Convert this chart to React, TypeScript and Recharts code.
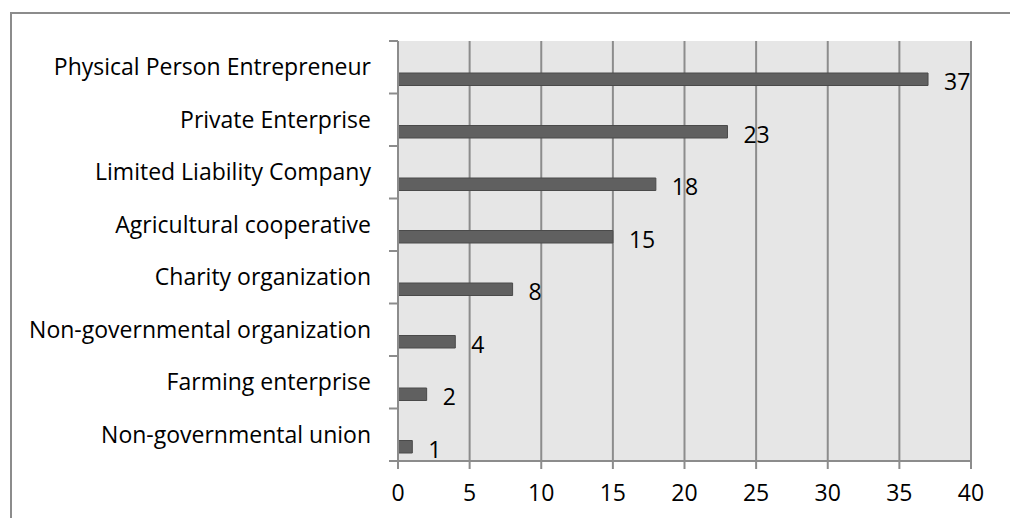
import React from 'react';
import {
  Bar,
  BarChart,
  CartesianGrid,
  LabelList,
  XAxis,
  YAxis,
} from 'recharts';

const categories = [
  'Physical Person Entrepreneur',
  'Private Enterprise',
  'Limited Liability Company',
  'Agricultural cooperative',
  'Charity organization',
  'Non-governmental organization',
  'Farming enterprise',
  'Non-governmental union',
];

const counts = [37, 23, 18, 15, 8, 4, 2, 1];

// Excel left an empty series in front of the real one, pushing bars down
const emptySeries = [null, null, null, null, null, null, null, null];

const xTicks = [0, 5, 10, 15, 20, 25, 30, 35, 40];

const data = categories.map((name, i) => ({
  name,
  blank: emptySeries[i],
  count: counts[i],
}));

const FONT = '"Open Sans", Lato, sans-serif';
const FONT_SIZE = 23;
const GRID = '#8c8c8c';

const CategoryTick = (props: any) => {
  const { x, y, payload, index, visibleTicksCount } = props;
  const half = payload && payload.offset ? payload.offset : 26.25;
  const isLast = index === visibleTicksCount - 1;
  return (
    <g>
      <line x1={x - 9} x2={x} y1={y - half} y2={y - half} stroke={GRID} strokeWidth={2} />
      {isLast && (
        <line x1={x - 9} x2={x} y1={y + half} y2={y + half} stroke={GRID} strokeWidth={2} />
      )}
      <text
        x={x - 27}
        y={y - 1}
        textAnchor="end"
        dominantBaseline="central"
        fill="#000"
        fontSize={FONT_SIZE}
        fontFamily={FONT}
      >
        {payload.value}
      </text>
    </g>
  );
};

const App: React.FC = () => {
  return (
    <div
      style={{
        position: 'fixed',
        left: 0,
        top: 0,
        width: 1010,
        height: 518,
        overflow: 'hidden',
        background: '#fff',
      }}
    >
      <div
        style={{
          position: 'absolute',
          left: 10,
          top: 12,
          width: 1100,
          height: 600,
          border: '2px solid #8c8c8c',
        }}
      />
      <div style={{ position: 'absolute', left: 0, top: 0 }}>
        <BarChart
          width={1010}
          height={518}
          data={data}
          layout="vertical"
          barGap={10.5}
          margin={{ top: 41, right: 39, bottom: 17, left: 0 }}
        >
          <CartesianGrid
            horizontal={false}
            fill="#e6e6e6"
            stroke={GRID}
            strokeWidth={2}
            verticalValues={xTicks}
          />
          <XAxis
            type="number"
            domain={[0, 40]}
            ticks={xTicks}
            interval={0}
            height={40}
            tickSize={8}
            tickMargin={16}
            axisLine={{ stroke: GRID, strokeWidth: 2 }}
            tickLine={{ stroke: GRID, strokeWidth: 2 }}
            tick={{ fill: '#000', fontSize: FONT_SIZE, fontFamily: FONT }}
          />
          <YAxis
            type="category"
            dataKey="name"
            width={398}
            interval={0}
            tickSize={0}
            tickMargin={0}
            axisLine={{ stroke: GRID, strokeWidth: 2 }}
            tickLine={false}
            tick={<CategoryTick />}
          />
          <Bar dataKey="blank" barSize={12.5} fill="none" isAnimationActive={false} />
          <Bar
            dataKey="count"
            barSize={12.5}
            fill="#606060"
            stroke="#4a4a4a"
            strokeWidth={1}
            isAnimationActive={false}
          >
            <LabelList
              dataKey="count"
              position="right"
              offset={16}
              fill="#000"
              fontSize={FONT_SIZE}
              fontFamily={FONT}
              dy={3}
            />
          </Bar>
        </BarChart>
      </div>
    </div>
  );
};

export default App;
